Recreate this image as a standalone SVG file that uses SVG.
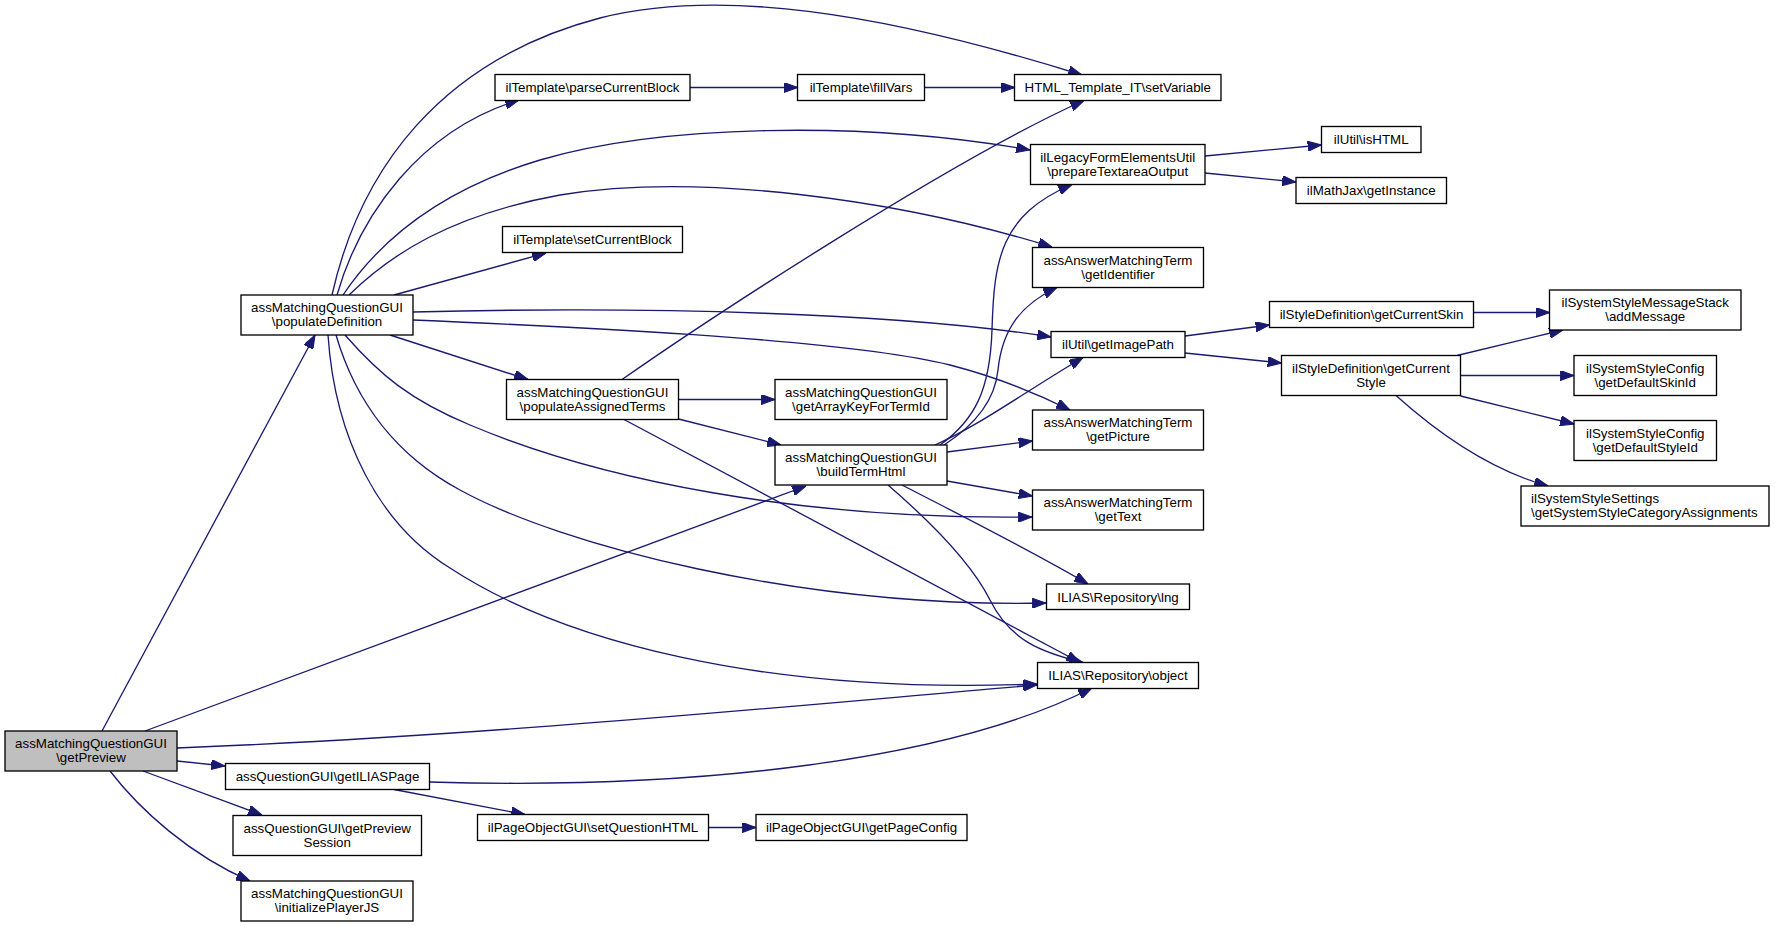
<svg xmlns="http://www.w3.org/2000/svg" width="1775" height="927" viewBox="0 0 1775 927">
<style>
.node rect{fill:#ffffff;stroke:#000000;stroke-width:1.33}
.node rect.cur{fill:#bfbfbf}
text{font-family:"Liberation Sans",Arial,Helvetica,sans-serif;font-size:13.33px;text-anchor:middle;fill:#000000}
text.l{text-anchor:start}
.edges path{fill:none;stroke:#191970;stroke-width:1.33;marker-end:url(#ah)}
</style>
<defs>
<marker id="ah" markerUnits="userSpaceOnUse" markerWidth="14" markerHeight="10" viewBox="0 0 13 9.5" refX="13" refY="4.75" orient="auto">
<path d="M0,0 L13,4.75 L0,9.5 z" fill="#191970" stroke="#191970" stroke-width="1"/>
</marker>
</defs>
<rect x="0" y="0" width="1775" height="927" fill="#ffffff"/>
<g id="edges" class="edges">
<path d="M102,731 L315,335"/>
<path d="M145,731 L806,486"/>
<path d="M177,748 C500,735 800,705 1037,685"/>
<path d="M177,761 L225,766"/>
<path d="M143,771 L262,815"/>
<path d="M110,771 C140,810 190,855 250,881"/>
<path d="M332,295 C360,170 440,60 600,18 C720,-12 880,12 1082,75"/>
<path d="M337,295 C360,215 420,130 519,100"/>
<path d="M343,295 C380,240 440,190 540,160 C660,125 860,120 1030,150"/>
<path d="M349,295 C390,255 450,215 560,195 C700,172 900,200 1052,247"/>
<path d="M394,295 L546,253"/>
<path d="M413,312 C650,306 900,313 1051,337"/>
<path d="M413,320 C600,328 850,340 950,365 C1000,378 1040,395 1070,410"/>
<path d="M390,335 L528,379.5"/>
<path d="M345,335 C380,375 410,400 470,425 C600,480 800,520 1032,517"/>
<path d="M336,335 C355,400 395,455 460,490 C560,545 800,608 1046,603"/>
<path d="M328,335 C335,440 380,525 450,568 C560,640 760,695 1037,684"/>
<path d="M690,87.5 L797.5,87.5"/>
<path d="M924.5,87.5 L1014.5,87.5"/>
<path d="M622,379.5 C700,325 950,160 1084,100.5"/>
<path d="M678.5,399.5 L775,399.5"/>
<path d="M678.5,419 L781,445"/>
<path d="M624,419.5 L1080,662.5"/>
<path d="M940,445 C975,420 990,390 992,330 C994,260 1000,215 1072,184.5"/>
<path d="M944,445 C975,425 995,400 998,370 C1002,330 1020,305 1057,287.5"/>
<path d="M935,445 C980,425 1020,395 1083,357.5"/>
<path d="M947,452 L1032.5,441"/>
<path d="M947,481 L1032.5,496"/>
<path d="M902,485 C960,515 1030,550 1088,584"/>
<path d="M888,485 C940,530 975,570 990,600 C1010,640 1040,652 1083,662.5"/>
<path d="M1205,156 L1321.5,145"/>
<path d="M1205,173 L1296,182"/>
<path d="M1185,336 L1269.5,325"/>
<path d="M1185,353 L1281.5,363"/>
<path d="M1473.5,312.5 L1549.5,312.5"/>
<path d="M1457,355.5 L1563,330"/>
<path d="M1460.5,375.5 L1574,375.5"/>
<path d="M1460.5,396 L1574,424"/>
<path d="M1396,395.5 C1440,435 1490,470 1548,486"/>
<path d="M429.5,782 C700,790 950,760 1092,688"/>
<path d="M394,789.5 L525,814.5"/>
<path d="M708.5,827.5 L756,827.5"/>
</g>
<g id="n_getPreview" class="node"><rect class="cur" x="5" y="731" width="172" height="40"/><text x="91" y="748">assMatchingQuestionGUI</text><text x="91" y="762">\getPreview</text></g>
<g id="n_populateDefinition" class="node"><rect x="241" y="295" width="172" height="40"/><text x="327" y="312">assMatchingQuestionGUI</text><text x="327" y="326">\populateDefinition</text></g>
<g id="n_parseCurrentBlock" class="node"><rect x="495" y="74.5" width="195" height="26"/><text x="592.5" y="92">ilTemplate\parseCurrentBlock</text></g>
<g id="n_fillVars" class="node"><rect x="797.5" y="74.5" width="127" height="26"/><text x="861" y="92">ilTemplate\fillVars</text></g>
<g id="n_setVariable" class="node"><rect x="1014.5" y="74.5" width="206.5" height="26"/><text x="1117.75" y="92">HTML_Template_IT\setVariable</text></g>
<g id="n_prepareTextareaOutput" class="node"><rect x="1030.5" y="144.5" width="174.5" height="40"/><text x="1117.75" y="161.5">ilLegacyFormElementsUtil</text><text x="1117.75" y="175.5">\prepareTextareaOutput</text></g>
<g id="n_isHTML" class="node"><rect x="1321.5" y="126.5" width="99.5" height="26"/><text x="1371.25" y="144">ilUtil\isHTML</text></g>
<g id="n_getInstance" class="node"><rect x="1296" y="177.5" width="150.5" height="26"/><text x="1371.25" y="195">ilMathJax\getInstance</text></g>
<g id="n_setCurrentBlock" class="node"><rect x="502.5" y="226.5" width="180" height="26"/><text x="592.5" y="244">ilTemplate\setCurrentBlock</text></g>
<g id="n_getIdentifier" class="node"><rect x="1032.5" y="247.5" width="171" height="40"/><text x="1118" y="264.5">assAnswerMatchingTerm</text><text x="1118" y="278.5">\getIdentifier</text></g>
<g id="n_getCurrentSkin" class="node"><rect x="1269.5" y="301.5" width="204" height="26"/><text x="1371.5" y="319">ilStyleDefinition\getCurrentSkin</text></g>
<g id="n_addMessage" class="node"><rect x="1549.5" y="290" width="191.5" height="40"/><text x="1645.25" y="307">ilSystemStyleMessageStack</text><text x="1645.25" y="321">\addMessage</text></g>
<g id="n_getImagePath" class="node"><rect x="1051" y="331.5" width="134" height="26"/><text x="1118" y="349">ilUtil\getImagePath</text></g>
<g id="n_getCurrentStyle" class="node"><rect x="1281.5" y="355.5" width="179" height="40"/><text x="1371" y="372.5">ilStyleDefinition\getCurrent</text><text x="1371" y="386.5">Style</text></g>
<g id="n_getDefaultSkinId" class="node"><rect x="1574" y="355.5" width="142.5" height="40"/><text x="1645.25" y="372.5">ilSystemStyleConfig</text><text x="1645.25" y="386.5">\getDefaultSkinId</text></g>
<g id="n_getDefaultStyleId" class="node"><rect x="1574" y="420.5" width="142.5" height="40"/><text x="1645.25" y="437.5">ilSystemStyleConfig</text><text x="1645.25" y="451.5">\getDefaultStyleId</text></g>
<g id="n_getSystemStyleCategoryAssignments" class="node"><rect x="1521" y="486" width="248" height="40"/><text class="l" x="1531" y="503">ilSystemStyleSettings</text><text class="l" x="1531" y="517">\getSystemStyleCategoryAssignments</text></g>
<g id="n_populateAssignedTerms" class="node"><rect x="506.5" y="379.5" width="172" height="40"/><text x="592.5" y="396.5">assMatchingQuestionGUI</text><text x="592.5" y="410.5">\populateAssignedTerms</text></g>
<g id="n_getArrayKeyForTermId" class="node"><rect x="775" y="379.5" width="172" height="40"/><text x="861" y="396.5">assMatchingQuestionGUI</text><text x="861" y="410.5">\getArrayKeyForTermId</text></g>
<g id="n_buildTermHtml" class="node"><rect x="775" y="445" width="172" height="40"/><text x="861" y="462">assMatchingQuestionGUI</text><text x="861" y="476">\buildTermHtml</text></g>
<g id="n_getPicture" class="node"><rect x="1032.5" y="410" width="171" height="40"/><text x="1118" y="427">assAnswerMatchingTerm</text><text x="1118" y="441">\getPicture</text></g>
<g id="n_getText" class="node"><rect x="1032.5" y="490" width="171" height="40"/><text x="1118" y="507">assAnswerMatchingTerm</text><text x="1118" y="521">\getText</text></g>
<g id="n_lng" class="node"><rect x="1046.5" y="584" width="143" height="25.5"/><text x="1118" y="601.5">ILIAS\Repository\lng</text></g>
<g id="n_object" class="node"><rect x="1037.5" y="662.5" width="161" height="26"/><text x="1118" y="680">ILIAS\Repository\object</text></g>
<g id="n_getILIASPage" class="node"><rect x="225.5" y="763.5" width="204" height="26"/><text x="327.5" y="781">assQuestionGUI\getILIASPage</text></g>
<g id="n_getPreviewSession" class="node"><rect x="233" y="815.5" width="188.5" height="40"/><text x="327.25" y="832.5">assQuestionGUI\getPreview</text><text x="327.25" y="846.5">Session</text></g>
<g id="n_initializePlayerJS" class="node"><rect x="241" y="881" width="172" height="40"/><text x="327" y="898">assMatchingQuestionGUI</text><text x="327" y="912">\initializePlayerJS</text></g>
<g id="n_setQuestionHTML" class="node"><rect x="477.5" y="814.5" width="231" height="26"/><text x="593" y="832">ilPageObjectGUI\setQuestionHTML</text></g>
<g id="n_getPageConfig" class="node"><rect x="756" y="814.5" width="211" height="26"/><text x="861.5" y="832">ilPageObjectGUI\getPageConfig</text></g>
</svg>
